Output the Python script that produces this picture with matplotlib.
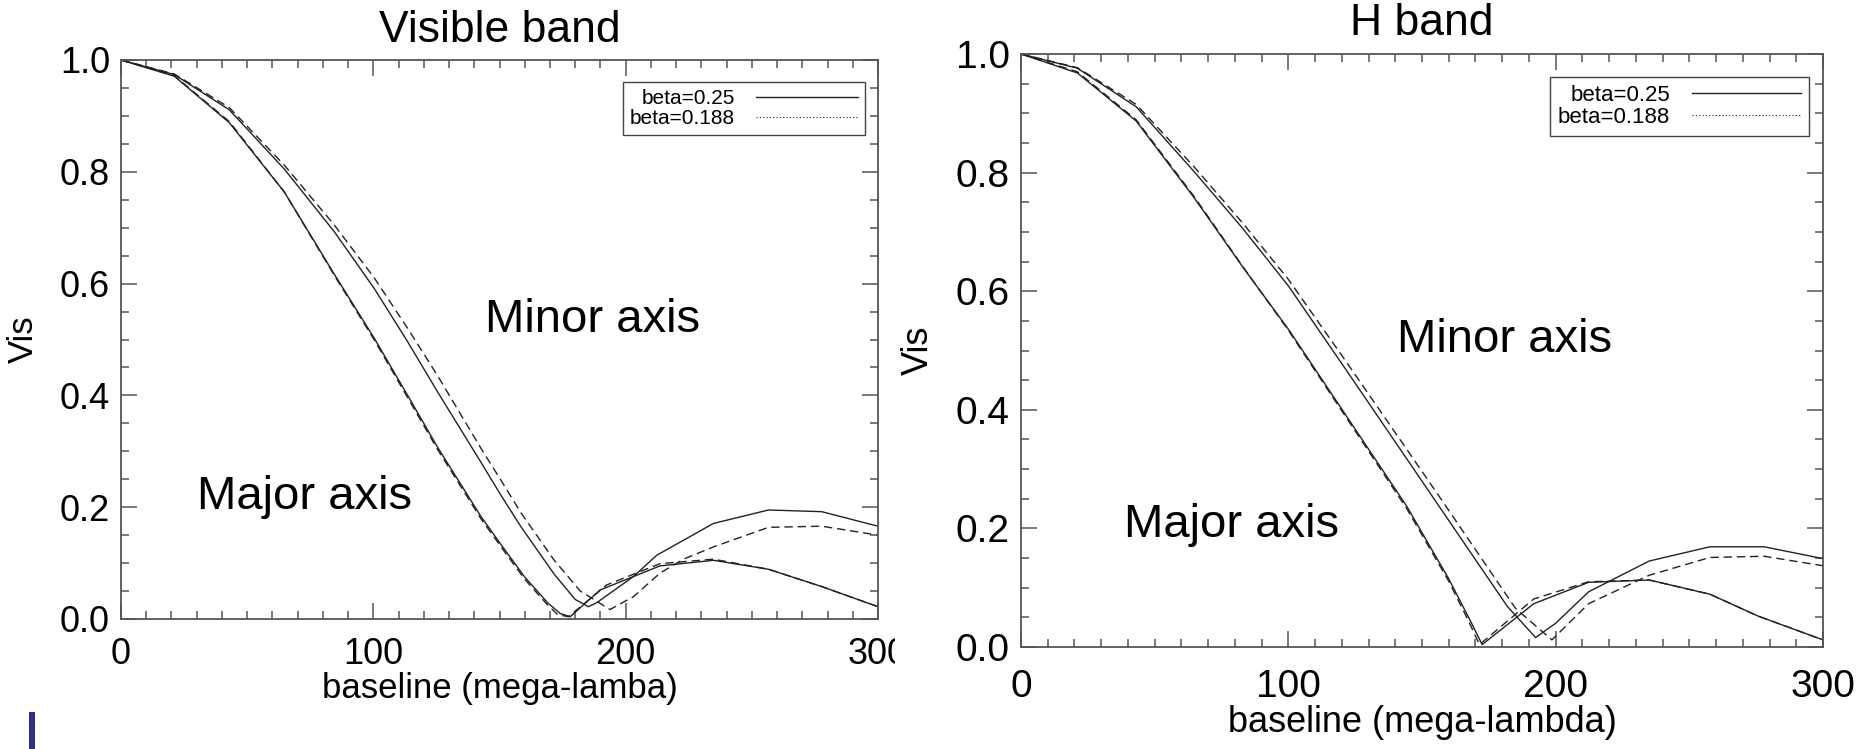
import numpy as np
import matplotlib
matplotlib.use('agg')
import matplotlib.pyplot as plt
from matplotlib.lines import Line2D
from matplotlib.patches import Rectangle
from matplotlib.ticker import MultipleLocator, FormatStrFormatter

plt.rcParams['font.family'] = ['Liberation Sans', 'DejaVu Sans']

# ---- Visible band (left panel) ----
vis_maj_x      = [0, 21.1, 42.9, 64.7, 84.5, 100.4, 113.6, 125.5, 142.7, 151.9, 160, 169.1, 174, 178.0, 189.9, 203.1, 213.6, 234.8, 256.6, 277.7, 300]
vis_maj_025    = [1.0, 0.971, 0.888, 0.764, 0.617, 0.502, 0.400, 0.307, 0.183, 0.125, 0.075, 0.029, 0.010, 0.004, 0.052, 0.076, 0.095, 0.105, 0.089, 0.058, 0.022]
vis_maj_d_x    = [0, 21.1, 42.9, 64.7, 84.5, 100.4, 113.6, 125.5, 142.7, 151.9, 160, 169.1, 173, 177.3, 192.5, 213.6, 234.8, 256.6, 277.7, 300]
vis_maj_0188   = [1.0, 0.972, 0.890, 0.764, 0.615, 0.499, 0.396, 0.303, 0.179, 0.121, 0.071, 0.025, 0.008, 0.004, 0.061, 0.099, 0.107, 0.089, 0.058, 0.022]
vis_min_x      = [0, 21.1, 42.9, 64.7, 84.5, 100.4, 113.6, 125.5, 142.7, 150.2, 158.5, 171.7, 180, 185.2, 188.5, 203.1, 212.3, 234.8, 256.6, 277.7, 300]
vis_min_025    = [1.0, 0.974, 0.911, 0.805, 0.693, 0.591, 0.496, 0.406, 0.280, 0.224, 0.165, 0.080, 0.035, 0.022, 0.029, 0.076, 0.114, 0.171, 0.195, 0.192, 0.166]
vis_min_d_x    = [0, 21.1, 42.9, 64.7, 84.5, 100.4, 113.6, 125.5, 142.7, 150.2, 158.5, 171.7, 182, 193.8, 203.1, 213.6, 222.9, 234.8, 256.6, 277.7, 300]
vis_min_0188   = [1.0, 0.975, 0.915, 0.812, 0.705, 0.610, 0.520, 0.435, 0.305, 0.251, 0.190, 0.105, 0.050, 0.017, 0.040, 0.082, 0.107, 0.129, 0.164, 0.166, 0.150]

# ---- H band (right panel) ----
h_maj_x        = [0, 21.1, 43.1, 64.7, 82.9, 100, 121.5, 144.2, 160, 168, 172.5, 191.8, 212.3, 235, 257.7, 275.8, 300]
h_maj_025      = [1.0, 0.968, 0.887, 0.758, 0.641, 0.536, 0.391, 0.238, 0.115, 0.045, 0.004, 0.073, 0.109, 0.113, 0.089, 0.052, 0.012]
h_maj_d_x      = [0, 21.1, 43.1, 64.7, 82.9, 100, 121.5, 144.2, 160, 167.5, 171.5, 191.8, 212.3, 235, 257.7, 275.8, 300]
h_maj_0188     = [1.0, 0.970, 0.889, 0.760, 0.642, 0.534, 0.388, 0.234, 0.111, 0.043, 0.004, 0.081, 0.110, 0.113, 0.089, 0.052, 0.012]
h_min_x        = [0, 21.1, 43.1, 64.7, 82.9, 100, 121.5, 144.2, 157.8, 171.4, 182, 192.5, 200, 212.3, 235, 257.7, 278, 300]
h_min_025      = [1.0, 0.976, 0.911, 0.802, 0.706, 0.609, 0.468, 0.318, 0.228, 0.138, 0.068, 0.016, 0.040, 0.093, 0.145, 0.169, 0.169, 0.149]
h_min_d_x      = [0, 21.1, 43.1, 64.7, 82.9, 100, 121.5, 144.2, 157.8, 171.4, 185, 198.6, 212.3, 235, 257.7, 278, 300]
h_min_0188     = [1.0, 0.977, 0.915, 0.810, 0.715, 0.620, 0.482, 0.334, 0.245, 0.155, 0.065, 0.012, 0.073, 0.121, 0.151, 0.153, 0.137]

legend_labels = ["beta=0.25", "beta=0.188"]
line_col = "#222222"
frame_col = "#555555"


def draw_panel(ax, curves, title, xlabel, fs_tick, fs_lab, x_pad, title_pad,
               minor_pos, major_pos, leg_anchor, leg_fs):
    for x, y, ls in curves:
        if ls == "solid":
            ax.plot(x, y, color=line_col, lw=1.0)
        else:
            ax.plot(x, y, color=line_col, lw=1.0, dashes=(6, 3.5))
    ax.set_xlim(0, 300)
    ax.set_ylim(0, 1.0)
    ax.xaxis.set_major_locator(MultipleLocator(100))
    ax.xaxis.set_minor_locator(MultipleLocator(10))
    ax.yaxis.set_major_locator(MultipleLocator(0.2))
    ax.yaxis.set_minor_locator(MultipleLocator(0.05))
    ax.yaxis.set_major_formatter(FormatStrFormatter('%.1f'))
    ax.tick_params(which='both', direction='in', top=True, right=True, color=frame_col, width=1.1)
    ax.tick_params(which='major', length=11.5)
    ax.tick_params(which='minor', length=5.8)
    ax.tick_params(axis='x', which='major', labelsize=fs_tick, pad=x_pad)
    ax.tick_params(axis='y', which='major', labelsize=fs_tick, pad=8)
    for sp in ax.spines.values():
        sp.set_color(frame_col)
        sp.set_linewidth(1.3)
    ax.set_title(title, fontsize=32, pad=title_pad)
    ax.set_xlabel(xlabel, fontsize=fs_lab, labelpad=0)
    ax.set_ylabel("Vis", fontsize=fs_lab, labelpad=14)
    ax.text(minor_pos[0], minor_pos[1], "Minor axis", fontsize=34, ha='center', va='center')
    ax.text(major_pos[0], major_pos[1], "Major axis", fontsize=34, ha='center', va='center')
    handles = [Line2D([], [], color=line_col, lw=1.0),
               Line2D([], [], color=line_col, lw=0.8, ls=(0, (1, 2)))]
    leg = ax.legend(handles, legend_labels, loc='upper right', bbox_to_anchor=leg_anchor,
                    borderaxespad=0, fontsize=leg_fs, markerfirst=False, fancybox=False,
                    framealpha=1, edgecolor="#444444", handlelength=4.9, handletextpad=1.0,
                    labelspacing=0.05, borderpad=0.35)
    leg.get_frame().set_linewidth(1.0)


fig = plt.figure(figsize=(18.72, 7.49), dpi=100)
ax1 = fig.add_axes([121 / 1872, 1 - 619 / 749, 757 / 1872, 559 / 749])
ax2 = fig.add_axes([1021 / 1872, 1 - 647 / 749, 802 / 1872, 593 / 749])

draw_panel(ax1,
           [(vis_maj_x, vis_maj_025, "solid"), (vis_maj_d_x, vis_maj_0188, "dash"),
            (vis_min_x, vis_min_025, "solid"), (vis_min_d_x, vis_min_0188, "dash")],
           "Visible band", "baseline (mega-lamba)", 26, 25, 13, 13,
           (186.8, 0.534), (72.9, 0.219), (0.983, 0.961), 15)
draw_panel(ax2,
           [(h_maj_x, h_maj_025, "solid"), (h_maj_d_x, h_maj_0188, "dash"),
            (h_min_x, h_min_025, "solid"), (h_min_d_x, h_min_0188, "dash")],
           "H band", "baseline (mega-lambda)", 28, 26, 16, 14,
           (180.7, 0.518), (78.6, 0.205), (0.9825, 0.961), 16)

# the two slides were pasted side by side: the left "300" is cut off
fig.patches.append(Rectangle((895, 70), 12, 55, transform=None, facecolor='white',
                             edgecolor='none', zorder=10))
# blue slide marker at the bottom left
fig.patches.append(Rectangle((29, 0), 6, 37, transform=None, facecolor='#2e3192',
                             edgecolor='none', zorder=10))

fig.savefig("out.png", dpi=100)
